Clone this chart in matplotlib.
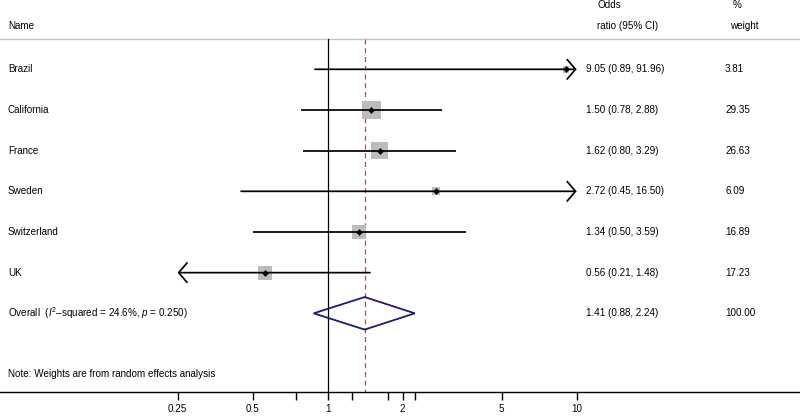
import numpy as np
import matplotlib
matplotlib.use("Agg")
import matplotlib.pyplot as plt
from matplotlib.patches import Polygon

plt.rcParams['font.family'] = ['Liberation Sans', 'DejaVu Sans']
plt.rcParams['mathtext.fontset'] = 'custom'
plt.rcParams['mathtext.rm'] = 'Liberation Sans'
plt.rcParams['mathtext.it'] = 'Liberation Sans:italic'

# ---- data ----
studies = ["Brazil", "California", "France", "Sweden", "Switzerland", "UK"]
odds_ratio = [9.05, 1.50, 1.62, 2.72, 1.34, 0.56]
ci_low = [0.89, 0.78, 0.80, 0.45, 0.50, 0.21]
ci_high = [91.96, 2.88, 3.29, 16.50, 3.59, 1.48]
weights = [3.81, 29.35, 26.63, 6.09, 16.89, 17.23]

overall_or = 1.41
overall_low = 0.88
overall_high = 2.24
overall_weight = 100.00
overall_label = r"Overall  ($I^2$–squared = 24.6%, $p$ = 0.250)"
note_label = "Note: Weights are from random effects analysis"

tick_values = [0.25, 0.5, 1, 2, 5, 10]
tick_labels = ["0.25", "0.5", "1", "2", "5", "10"]
minor_ticks = [0.75, 1.25, 1.75, 2.25]
clip_min, clip_max = 0.25, 10

# ---- figure ----
W, H = 800, 417
fig = plt.figure(figsize=(W / 100, H / 100), dpi=100)
axis_px = 392
bottom = (H - axis_px) / H
ax = fig.add_axes([0, bottom, 1, 1 - bottom])
ax.set_xscale('log')
ax.set_xlim(0.04845, 78.79)
row0_px, row_step = 69.3, 40.67
ax.set_ylim((axis_px - row0_px) / row_step, -row0_px / row_step)

for s in ['left', 'right', 'top']:
    ax.spines[s].set_visible(False)
ax.spines['bottom'].set_linewidth(1.0)
ax.set_yticks([])
ax.set_xticks(tick_values + minor_ticks)
ax.set_xticklabels(tick_labels + [""] * len(minor_ticks))
ax.xaxis.set_minor_locator(matplotlib.ticker.NullLocator())
ax.tick_params(axis='x', length=6, width=1.0, pad=3, labelsize=7.1)

fs = 7.1
top_line_row = (39.3 - row0_px) / row_step
ax.axhline(top_line_row, color='#c4c4c4', lw=1.0, zorder=1)

n = len(studies)
overall_row = n
bottom_row = (axis_px - row0_px) / row_step
ax.plot([1, 1], [top_line_row, bottom_row], color='black', lw=0.9, zorder=2)
ax.plot([overall_or, overall_or], [top_line_row, bottom_row], color='#a8525f',
        lw=0.9, linestyle=(0, (4, 3)), zorder=1)

rows = np.arange(n)
# weight boxes
ax.scatter(odds_ratio, rows, s=[5.9 * w for w in weights], marker='s',
           color='#bcbcbc', linewidths=0, zorder=3)

# CI lines and arrows
for i in range(n):
    lo, hi = ci_low[i], ci_high[i]
    lo_c = max(lo, clip_min)
    hi_c = min(hi, clip_max)
    if hi > clip_max and lo < clip_min:
        style = '<->'
    elif hi > clip_max:
        style = '->'
    elif lo < clip_min:
        style = '<-'
    else:
        style = '-'
    if style == '-':
        ax.plot([lo_c, hi_c], [i, i], color='black', lw=1.25, zorder=4,
                solid_capstyle='butt')
    else:
        ax.annotate('', xy=(hi_c, i), xytext=(lo_c, i),
                    arrowprops=dict(arrowstyle=f'{style},head_length=0.6,head_width=0.7',
                                    color='black', lw=1.25, shrinkA=0, shrinkB=0),
                    zorder=4)

ax.scatter(odds_ratio, rows, marker='D', s=12, color='black', linewidths=0, zorder=5)

# overall diamond
h = 0.4
diamond = Polygon([(overall_low, overall_row), (overall_or, overall_row - h),
                   (overall_high, overall_row), (overall_or, overall_row + h)],
                  closed=True, fill=False, edgecolor='#1c1c6e', lw=1.3, zorder=5)
ax.add_patch(diamond)

# ---- text columns ----
tr = ax.get_yaxis_transform()  # x in axes fraction, y in data
x_name = 8 / W
x_or = 586 / W
x_wt = 725 / W

ax.text(x_name, (26 - row0_px) / row_step, "Name", transform=tr, fontsize=fs, va='center')
ax.text(597 / W, (5 - row0_px) / row_step, "Odds", transform=tr, fontsize=fs, va='center')
ax.text(597 / W, (26 - row0_px) / row_step, "ratio (95% CI)", transform=tr, fontsize=fs, va='center')
ax.text(733 / W, (5 - row0_px) / row_step, "%", transform=tr, fontsize=fs, va='center')
ax.text(730 / W, (26 - row0_px) / row_step, "weight", transform=tr, fontsize=fs, va='center')

for i in range(n):
    ax.text(x_name, i, studies[i], transform=tr, fontsize=fs, va='center')
    ax.text(x_or, i, f"{odds_ratio[i]:.2f} ({ci_low[i]:.2f}, {ci_high[i]:.2f})",
            transform=tr, fontsize=fs, va='center')
    ax.text(x_wt, i, f"{weights[i]:.2f}", transform=tr, fontsize=fs, va='center')

ax.text(x_name, overall_row, overall_label, transform=tr, fontsize=fs, va='center')
ax.text(x_or, overall_row, f"{overall_or:.2f} ({overall_low:.2f}, {overall_high:.2f})",
        transform=tr, fontsize=fs, va='center')
ax.text(x_wt, overall_row, f"{overall_weight:.2f}", transform=tr, fontsize=fs, va='center')
ax.text(x_name, (374 - row0_px) / row_step, note_label, transform=tr, fontsize=fs, va='center')

fig.savefig("out.png", dpi=100)
